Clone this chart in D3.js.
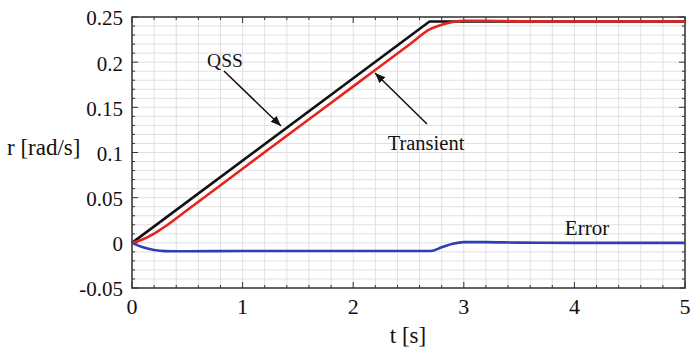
<!DOCTYPE html>
<html>
<head>
<meta charset="utf-8">
<script src="https://cdn.jsdelivr.net/npm/d3@7"></script>
</head>
<body style="margin:0">
<script>
// values
const qssT = [0, 2.69, 5];
const qssR = [0, 0.245, 0.245];

const transT = [0, 0.1, 0.2, 0.3, 0.5, 1, 1.5, 2, 2.5, 2.7, 2.8, 2.9, 3.0, 3.2, 3.5, 4, 5];
const transR = [0, 0.004, 0.0102, 0.0181, 0.0363, 0.0821, 0.1277, 0.1732, 0.2188, 0.2368, 0.2415, 0.2445, 0.2458, 0.2458, 0.2452, 0.245, 0.245];

const errT = [0, 0.1, 0.2, 0.3, 0.5, 1, 2, 2.7, 2.8, 2.9, 3.0, 3.2, 3.5, 4, 5];
const errR = [0, -0.005, -0.008, -0.0092, -0.0093, -0.009, -0.009, -0.009, -0.005, -0.001, 0.0008, 0.0008, 0.0002, 0, 0];

const xTicks = [0, 1, 2, 3, 4, 5];
const yTicks = [-0.05, 0, 0.05, 0.1, 0.15, 0.2, 0.25];
const yTickLabels = ['-0.05', '0', '0.05', '0.1', '0.15', '0.2', '0.25'];

const margin = { top: 17, bottom: 62, right: 5, left: 132 };
const width = 690 - margin.left - margin.right;
const height = 350 - margin.top - margin.bottom;
const font = "'Liberation Serif'";

const svg = d3.select('body')
  .append('svg')
  .attr('width', 690)
  .attr('height', 350);

const g = svg.append('g')
  .attr('transform', 'translate(' + margin.left + ', ' + margin.top + ')');

const x = d3.scaleLinear().domain([0, 5]).range([0, width]);
const y = d3.scaleLinear().domain([-0.05, 0.25]).range([height, 0]);

// minor grid
const xMinor = d3.range(0, 26).map(i => i * 0.2);
const yMinor = d3.range(0, 31).map(i => -0.05 + i * 0.01);

g.append('g').selectAll('line')
  .data(xMinor)
  .join('line')
  .attr('x1', d => x(d)).attr('x2', d => x(d))
  .attr('y1', 0).attr('y2', height)
  .attr('stroke', '#e0e0e0').attr('stroke-width', 1);

g.append('g').selectAll('line')
  .data(yMinor)
  .join('line')
  .attr('x1', 0).attr('x2', width)
  .attr('y1', d => y(d)).attr('y2', d => y(d))
  .attr('stroke', '#e0e0e0').attr('stroke-width', 1);

// inward ticks on all four sides
const tickG = g.append('g').attr('stroke', '#333').attr('stroke-width', 1);
xMinor.forEach((d, i) => {
  const len = i % 5 === 0 ? 6 : 3;
  tickG.append('line').attr('x1', x(d)).attr('x2', x(d)).attr('y1', height).attr('y2', height - len);
  tickG.append('line').attr('x1', x(d)).attr('x2', x(d)).attr('y1', 0).attr('y2', len);
});
yMinor.forEach((d, i) => {
  const len = i % 5 === 0 ? 6 : 3;
  tickG.append('line').attr('y1', y(d)).attr('y2', y(d)).attr('x1', 0).attr('x2', len);
  tickG.append('line').attr('y1', y(d)).attr('y2', y(d)).attr('x1', width).attr('x2', width - len);
});

g.append('rect')
  .attr('width', width).attr('height', height)
  .attr('fill', 'none').attr('stroke', '#333').attr('stroke-width', 1.5);

// tick labels
g.append('g').selectAll('text')
  .data(xTicks)
  .join('text')
  .attr('x', d => x(d))
  .attr('y', height + 26)
  .attr('text-anchor', 'middle')
  .attr('font-size', 22)
  .attr('fill', '#111')
  .style('font-family', font, 'important')
  .text(d => d);

g.append('g').selectAll('text')
  .data(yTicks)
  .join('text')
  .attr('x', -9)
  .attr('y', d => y(d) + 1)
  .attr('dy', '0.35em')
  .attr('text-anchor', 'end')
  .attr('font-size', 21)
  .attr('fill', '#111')
  .style('font-family', font, 'important')
  .text((d, i) => yTickLabels[i]);

// axis titles and annotation labels
function label(txt, px, py, size, anchor) {
  svg.append('text')
    .attr('x', px).attr('y', py)
    .attr('text-anchor', anchor)
    .attr('font-size', size)
    .attr('fill', '#111')
    .style('font-family', font, 'important')
    .text(txt);
}

label('t [s]', 408, 343, 23, 'middle');
label('r [rad/s]', 7, 155, 23, 'start');

// lines
const series = [
  { t: qssT, r: qssR, color: '#111111', curve: d3.curveLinear },
  { t: transT, r: transR, color: '#e8231c', curve: d3.curveMonotoneX },
  { t: errT, r: errR, color: '#2d3fb3', curve: d3.curveMonotoneX }
];

series.forEach(s => {
  const line = d3.line()
    .x(d => x(d[0]))
    .y(d => y(d[1]))
    .curve(s.curve);
  g.append('path')
    .attr('fill', 'none')
    .attr('stroke', s.color)
    .attr('stroke-width', 2.6)
    .attr('stroke-linejoin', 'round')
    .attr('d', line(s.t.map((t, i) => [t, s.r[i]])));
});

// annotations
svg.append('defs').append('marker')
  .attr('id', 'arrow')
  .attr('viewBox', '0 0 10 10')
  .attr('refX', 10).attr('refY', 5)
  .attr('markerWidth', 7).attr('markerHeight', 7)
  .attr('orient', 'auto')
  .append('path')
  .attr('d', 'M0,1 L10,5 L0,9 Z')
  .attr('fill', '#111');

label('QSS', 225, 67, 19.5, 'middle');
svg.append('line')
  .attr('x1', 224).attr('y1', 71)
  .attr('x2', 281).attr('y2', 126)
  .attr('stroke', '#111').attr('stroke-width', 1.5)
  .attr('marker-end', 'url(#arrow)');

label('Transient', 426, 150, 20.5, 'middle');
svg.append('line')
  .attr('x1', 427).attr('y1', 124)
  .attr('x2', 375).attr('y2', 73)
  .attr('stroke', '#111').attr('stroke-width', 1.5)
  .attr('marker-end', 'url(#arrow)');

label('Error', 587, 235, 21, 'middle');
</script>
</body>
</html>
